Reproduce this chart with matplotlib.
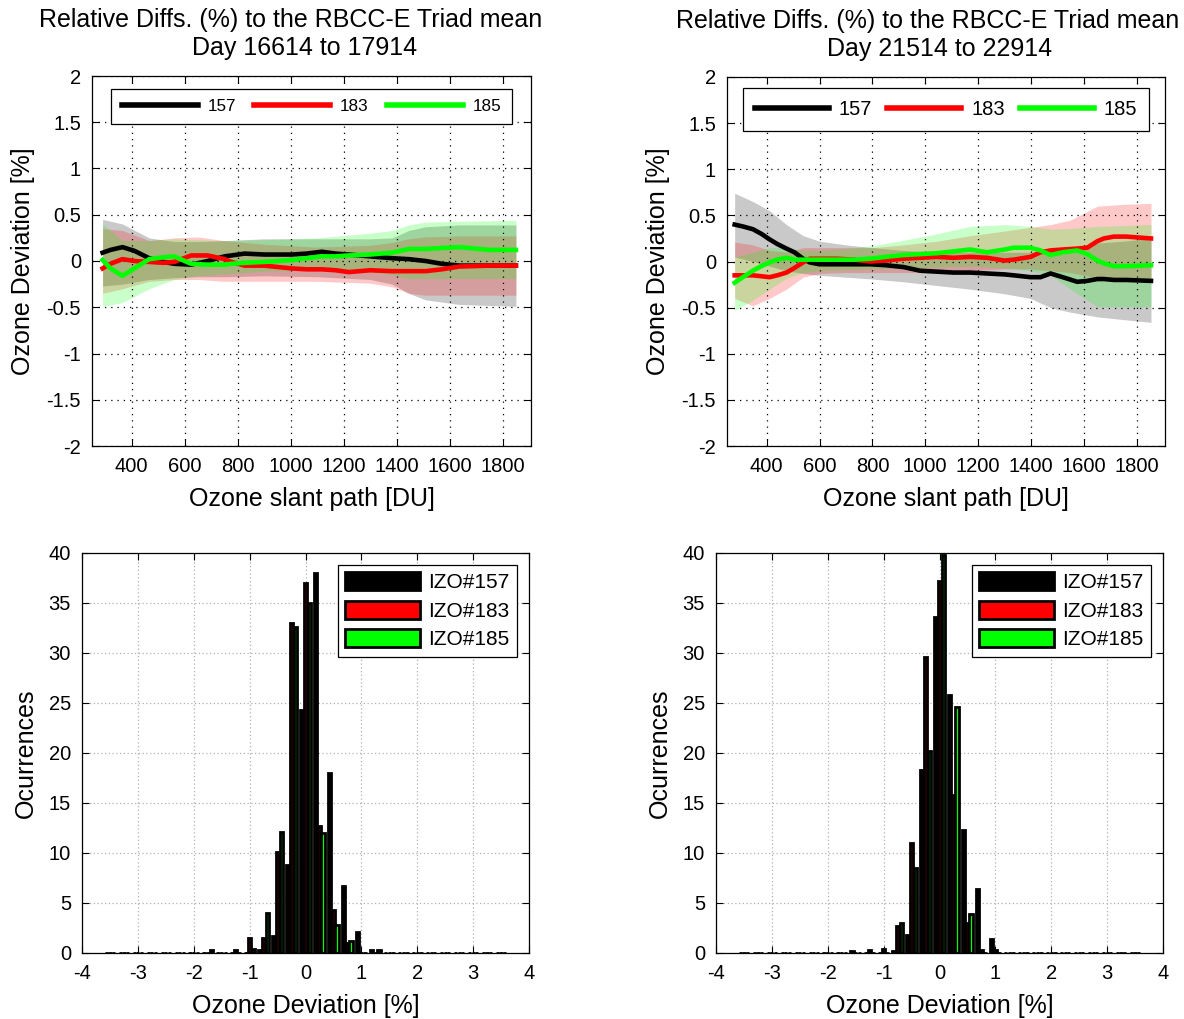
import matplotlib
matplotlib.use("Agg")
import matplotlib.pyplot as plt
import numpy as np

plt.rcParams['font.family'] = ['Liberation Sans', 'DejaVu Sans']
plt.rcParams['axes.unicode_minus'] = False

# ---------------- Top-left panel data ----------------
tl_title1 = "Relative Diffs. (%) to the RBCC-E Triad mean"
tl_title2 = "Day 16614 to 17914"
tl_x = [290, 320, 365, 410, 466, 520, 560, 624, 687, 750, 776, 826, 900, 1003, 1060,
        1117, 1170, 1219, 1300, 1383, 1446, 1509, 1570, 1636, 1750, 1850]
tl_157 = [0.09, 0.12, 0.15, 0.11, 0.03, -0.01, -0.03, -0.04, 0.00, 0.05, 0.06, 0.08, 0.07, 0.07, 0.08,
          0.10, 0.08, 0.07, 0.05, 0.03, 0.02, 0.00, -0.03, -0.05, -0.05, -0.05]
tl_183 = [-0.08, -0.03, 0.02, 0.00, -0.01, -0.02, -0.01, 0.06, 0.06, 0.02, -0.01, -0.05, -0.05, -0.08, -0.09,
          -0.09, -0.10, -0.12, -0.10, -0.11, -0.11, -0.11, -0.09, -0.06, -0.05, -0.05]
tl_185 = [0.01, -0.08, -0.16, -0.08, 0.02, 0.04, 0.05, -0.03, -0.04, -0.04, -0.03, -0.02, -0.01, 0.01, 0.03,
          0.05, 0.05, 0.06, 0.07, 0.09, 0.13, 0.13, 0.14, 0.15, 0.12, 0.12]
tl_xb = [290, 365, 466, 560, 650, 750, 900, 1100, 1300, 1383, 1446, 1509, 1636, 1850]
tl_157_up = [0.45, 0.40, 0.25, 0.21, 0.21, 0.22, 0.24, 0.24, 0.24, 0.25, 0.33, 0.37, 0.39, 0.39]
tl_157_lo = [-0.27, -0.25, -0.20, -0.18, -0.17, -0.17, -0.16, -0.17, -0.20, -0.25, -0.35, -0.42, -0.47, -0.49]
tl_183_up = [0.35, 0.33, 0.22, 0.25, 0.26, 0.22, 0.18, 0.15, 0.17, 0.20, 0.24, 0.26, 0.27, 0.27]
tl_183_lo = [-0.35, -0.30, -0.22, -0.20, -0.20, -0.22, -0.22, -0.22, -0.24, -0.28, -0.35, -0.37, -0.37, -0.37]
tl_185_up = [0.40, 0.22, 0.22, 0.24, 0.23, 0.22, 0.23, 0.25, 0.30, 0.33, 0.39, 0.42, 0.43, 0.44]
tl_185_lo = [-0.49, -0.45, -0.30, -0.20, -0.16, -0.14, -0.11, -0.10, -0.12, -0.15, -0.19, -0.19, -0.19, -0.19]

# ---------------- Top-right panel data ----------------
tr_title1 = "Relative Diffs. (%) to the RBCC-E Triad mean"
tr_title2 = "Day 21514 to 22914"
tr_x = [279, 310, 348, 380, 411, 440, 475, 505, 538, 563, 600, 665, 730, 791, 850, 917, 981, 1044,
        1107, 1170, 1234, 1300, 1335, 1398, 1436, 1474, 1520, 1575, 1613, 1651, 1676, 1714, 1760, 1854]
tr_157 = [0.40, 0.38, 0.35, 0.30, 0.24, 0.19, 0.14, 0.10, 0.03, -0.01, -0.03, -0.03, -0.03, -0.03, -0.04,
          -0.06, -0.10, -0.11, -0.12, -0.12, -0.13, -0.14, -0.15, -0.17, -0.17, -0.13, -0.17, -0.22,
          -0.21, -0.19, -0.19, -0.20, -0.20, -0.21]
tr_183 = [-0.15, -0.15, -0.15, -0.16, -0.17, -0.15, -0.12, -0.07, -0.01, 0.03, 0.03, 0.03, 0.02, 0.00,
          0.01, 0.03, 0.04, 0.05, 0.04, 0.05, 0.04, 0.01, 0.02, 0.05, 0.10, 0.12, 0.13, 0.14, 0.15,
          0.22, 0.25, 0.27, 0.27, 0.25]
tr_185 = [-0.23, -0.17, -0.10, -0.05, -0.01, 0.02, 0.04, 0.02, 0.02, 0.02, 0.02, 0.02, 0.02, 0.03,
          0.05, 0.07, 0.08, 0.09, 0.11, 0.13, 0.10, 0.13, 0.15, 0.15, 0.12, 0.07, 0.10, 0.12, 0.08,
          0.01, -0.02, -0.05, -0.05, -0.04]
tr_xb = [279, 348, 411, 475, 538, 600, 700, 800, 917, 1044, 1170, 1300, 1398, 1474, 1550, 1651, 1750, 1854]
tr_157_up = [0.74, 0.65, 0.55, 0.40, 0.28, 0.22, 0.18, 0.15, 0.12, 0.10, 0.10, 0.10, 0.10, 0.12, 0.15, 0.20, 0.22, 0.25]
tr_157_lo = [0.05, 0.00, -0.05, -0.10, -0.13, -0.15, -0.17, -0.19, -0.22, -0.26, -0.30, -0.35, -0.40, -0.50, -0.55, -0.60, -0.63, -0.66]
tr_183_up = [0.21, 0.18, 0.12, 0.10, 0.15, 0.15, 0.15, 0.15, 0.18, 0.22, 0.28, 0.33, 0.37, 0.40, 0.45, 0.60, 0.62, 0.63]
tr_183_lo = [-0.40, -0.48, -0.40, -0.30, -0.17, -0.13, -0.12, -0.12, -0.12, -0.12, -0.10, -0.08, -0.08, -0.10, -0.12, -0.18, -0.19, -0.19]
tr_185_up = [0.05, 0.10, 0.15, 0.15, 0.12, 0.12, 0.14, 0.17, 0.23, 0.30, 0.38, 0.40, 0.38, 0.35, 0.36, 0.38, 0.39, 0.40]
tr_185_lo = [-0.53, -0.42, -0.30, -0.18, -0.12, -0.10, -0.09, -0.08, -0.07, -0.06, -0.05, -0.07, -0.10, -0.15, -0.30, -0.49, -0.49, -0.49]

series_names = ["157", "183", "185"]
series_colors = ["#000000", "#ff0000", "#00ff00"]

# ---------------- Histogram data ----------------
hist_bins = [-3.5, -3.25, -3.0, -2.75, -2.5, -2.25, -2.0, -1.75, -1.5, -1.25, -1.0, -0.75, -0.5, -0.25,
             0.0, 0.25, 0.5, 0.75, 1.0, 1.25, 1.5, 1.75, 2.0, 2.25, 2.5, 2.75, 3.0, 3.25, 3.5]
hl_157 = [0, 0, 0, 0, 0, 0, 0, 0, 0, 0, 0, 0.3, 1.7, 8.8, 24.3, 38.0, 18.0, 6.7, 2.1, 0.3, 0, 0, 0, 0, 0, 0, 0, 0, 0]
hl_183 = [0, 0, 0, 0, 0, 0, 0, 0, 0, 0.3, 1.5, 1.5, 10.1, 33.0, 37.0, 12.7, 4.3, 1.0, 0, 0, 0, 0, 0, 0, 0, 0, 0, 0, 0]
hl_185 = [0, 0, 0, 0, 0, 0, 0, 0.3, 0, 0, 0.4, 4.0, 12.1, 32.6, 35.0, 12.0, 2.8, 1.2, 0, 0.3, 0, 0, 0, 0, 0, 0, 0, 0, 0]
hr_157 = [0, 0, 0, 0, 0, 0, 0, 0, 0.2, 0, 0, 0.2, 1.8, 18.3, 33.6, 25.8, 12.3, 6.4, 1.4, 0, 0, 0, 0, 0, 0, 0, 0, 0, 0]
hr_183 = [0, 0, 0, 0, 0, 0, 0, 0, 0, 0.3, 0.4, 2.7, 11.0, 29.6, 37.2, 15.8, 3.0, 0.3, 0.3, 0, 0, 0, 0, 0, 0, 0, 0, 0, 0]
hr_185 = [0, 0, 0, 0, 0, 0, 0, 0, 0, 0, 0, 3.0, 8.5, 20.2, 39.8, 24.6, 3.9, 0, 0, 0, 0, 0, 0, 0, 0, 0, 0, 0, 0]
hist_labels = ["IZO#157", "IZO#183", "IZO#185"]

fig = plt.figure(figsize=(11.84, 10.19), dpi=100)
W, H = 1184.0, 1019.0

def ax_px(l, t, r, b):
    return fig.add_axes([l / W, 1 - b / H, (r - l) / W, (b - t) / H])

def style(ax, gridcolor, gridls):
    ax.tick_params(direction='in', top=True, right=True, labelsize=14.5, length=5, width=0.8, pad=8)
    ax.grid(True, color=gridcolor, linestyle=gridls, linewidth=0.9)
    for s in ax.spines.values():
        s.set_linewidth(0.9)

def top_panel(ax, t1, t2, tx1, tx2, x, lines, xb, bands, legsize, hlpx, tppx, cspx, legtop):
    for (up, lo), c in zip(bands, series_colors):
        ax.fill_between(xb, lo, up, color=c, alpha=0.21, linewidth=0)
    for y, c, n in zip(lines, series_colors, series_names):
        ax.plot(x, y, color=c, lw=3.3, label=n)
    ax.set_xlim(250, 1907)
    ax.set_ylim(-2, 2)
    ax.set_xticks([400, 600, 800, 1000, 1200, 1400, 1600, 1800])
    ax.set_yticks([-2, -1.5, -1, -0.5, 0, 0.5, 1, 1.5, 2])
    ax.set_yticklabels(['-2', '-1.5', '-1', '-0.5', '0', '0.5', '1', '1.5', '2'])
    style(ax, 'black', (0, (1, 4)))
    ax.text(tx1, 1.152, t1, transform=ax.transAxes, ha='center', va='center', fontsize=18)
    ax.text(tx2, 1.076, t2, transform=ax.transAxes, ha='center', va='center', fontsize=18)
    ax.set_xlabel("Ozone slant path [DU]", fontsize=18, labelpad=8)
    ax.set_ylabel("Ozone Deviation [%]", fontsize=18, labelpad=8)
    em = legsize * 100 / 72.0
    leg = ax.legend(loc='upper center', ncol=3, fontsize=legsize, handlelength=hlpx / em,
                    fancybox=False, framealpha=1, edgecolor='black', borderpad=0.6,
                    borderaxespad=0, columnspacing=cspx / em, handletextpad=tppx / em,
                    bbox_to_anchor=(0.5, legtop))
    leg.get_frame().set_linewidth(0.9)
    for h in leg.legend_handles:
        h.set_linewidth(4)

def hist_panel(ax, vals):
    bins = np.array(hist_bins)
    offs = [-0.065, 0.0, 0.065]
    for v, c, o, n in zip(vals, series_colors, offs, hist_labels):
        ax.bar(bins + o, v, width=0.058, color=c, edgecolor='black', linewidth=2.0, label=n)
    ax.set_xlim(-4, 4)
    ax.set_ylim(0, 40)
    ax.set_xticks(range(-4, 5))
    ax.set_yticks(range(0, 41, 5))
    style(ax, '#b0b0b0', (0, (1, 2)))
    ax.set_axisbelow(True)
    ax.set_xlabel("Ozone Deviation [%]", fontsize=18, labelpad=8)
    ax.set_ylabel("Ocurrences", fontsize=18, labelpad=8)
    leg = ax.legend(loc='upper right', fontsize=15, handlelength=3.6, handleheight=0.95,
                    fancybox=False, framealpha=1, edgecolor='black', borderpad=0.35,
                    borderaxespad=0, labelspacing=0.4, handletextpad=0.4,
                    bbox_to_anchor=(0.973, 0.97))
    leg.get_frame().set_linewidth(0.9)
    for h in leg.legend_handles:
        h.set_linewidth(2)

ax1 = ax_px(92, 76, 531, 446)
top_panel(ax1, tl_title1, tl_title2, 0.453, 0.485, tl_x, [tl_157, tl_183, tl_185], tl_xb,
          [(tl_157_up, tl_157_lo), (tl_183_up, tl_183_lo), (tl_185_up, tl_185_lo)],
          12.3, 76, 10, 18, 0.965)
ax2 = ax_px(727, 77, 1165, 446)
top_panel(ax2, tr_title1, tr_title2, 0.457, 0.486, tr_x, [tr_157, tr_183, tr_185], tr_xb,
          [(tr_157_up, tr_157_lo), (tr_183_up, tr_183_lo), (tr_185_up, tr_185_lo)],
          14.5, 74, 10, 15, 0.970)
ax3 = ax_px(82, 553, 529, 953)
hist_panel(ax3, [hl_157, hl_183, hl_185])
ax4 = ax_px(716, 553, 1163, 953)
hist_panel(ax4, [hr_157, hr_183, hr_185])

fig.savefig("out.png", dpi=100)
